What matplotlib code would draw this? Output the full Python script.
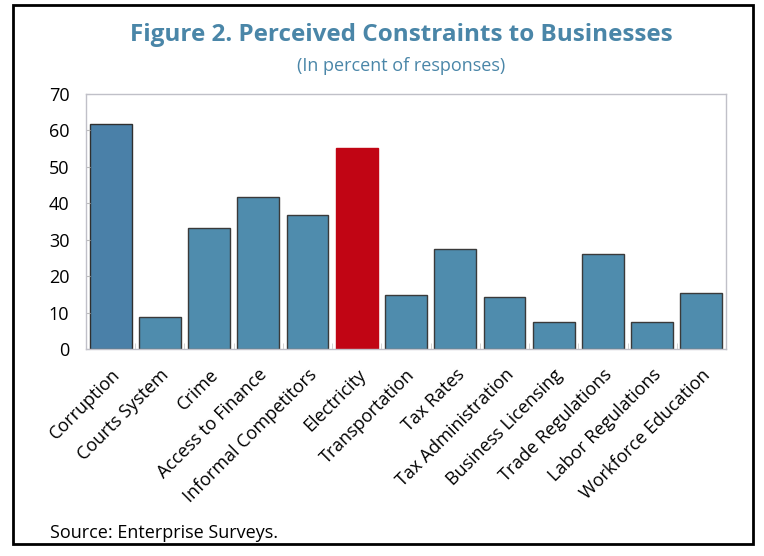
import numpy as np
import matplotlib.pyplot as plt
from matplotlib.patches import Rectangle

categories = ["Corruption", "Courts System", "Crime", "Access to Finance",
              "Informal Competitors", "Electricity", "Transportation", "Tax Rates",
              "Tax Administration", "Business Licensing", "Trade Regulations",
              "Labor Regulations", "Workforce Education"]
values = [61.7, 8.8, 33.2, 41.6, 36.9, 55.2, 14.8, 27.5, 14.2, 7.3, 26.1, 7.3, 15.3]
highlight = "Electricity"

plt.rcParams['font.family'] = ['Open Sans', 'DejaVu Sans']

fig = plt.figure(figsize=(7.64, 5.56), dpi=100)
ax = fig.add_axes([86 / 764, 1 - 349 / 556, 640 / 764, 255 / 556])

x = np.arange(len(categories))
colors = []
edges = []
for i, c in enumerate(categories):
    if c == highlight:
        colors.append('#c10514')
        edges.append('#c10514')
    elif i == 0:
        colors.append('#4a80a8')
        edges.append('#2f2f2f')
    else:
        colors.append('#4f8cad')
        edges.append('#3a3a3a')
ax.bar(x, values, width=0.85, color=colors, edgecolor=edges, linewidth=1.0)

ax.set_xlim(-0.5, len(categories) - 0.5)
ax.set_ylim(0, 70)
ax.set_yticks(range(0, 71, 10))
ax.tick_params(axis='y', direction='in', length=3, color='#bbbbbb', labelsize=13, pad=12)
ax.set_xticks(x + 0.5, minor=True)
ax.set_xticks(x)
ax.tick_params(axis='x', which='major', length=0, pad=12)
ax.tick_params(axis='x', which='minor', direction='in', length=4, color='#cccccc')
ax.set_xticklabels(categories, rotation=45, ha='right', va='top',
                   rotation_mode='anchor', fontsize=13)
for s in ax.spines.values():
    s.set_color('#c0c0c8')
    s.set_linewidth(1.0)

fig.text(401 / 764, 1 - 35 / 556, "Figure 2. Perceived Constraints to Businesses",
         ha='center', va='center', fontsize=17.5, fontweight='bold', color='#4a86a8')
fig.text(401 / 764, 1 - 66 / 556, "(In percent of responses)",
         ha='center', va='center', fontsize=13, color='#4a86a8')
fig.text(50 / 764, 1 - 533 / 556, "Source: Enterprise Surveys.",
         ha='left', va='center', fontsize=13)

fig.patches.append(Rectangle((13 / 764, 1 - 544 / 556), 740 / 764, 539 / 556,
                             transform=fig.transFigure, fill=False,
                             edgecolor='black', linewidth=2))

fig.savefig('out.png', dpi=100)
